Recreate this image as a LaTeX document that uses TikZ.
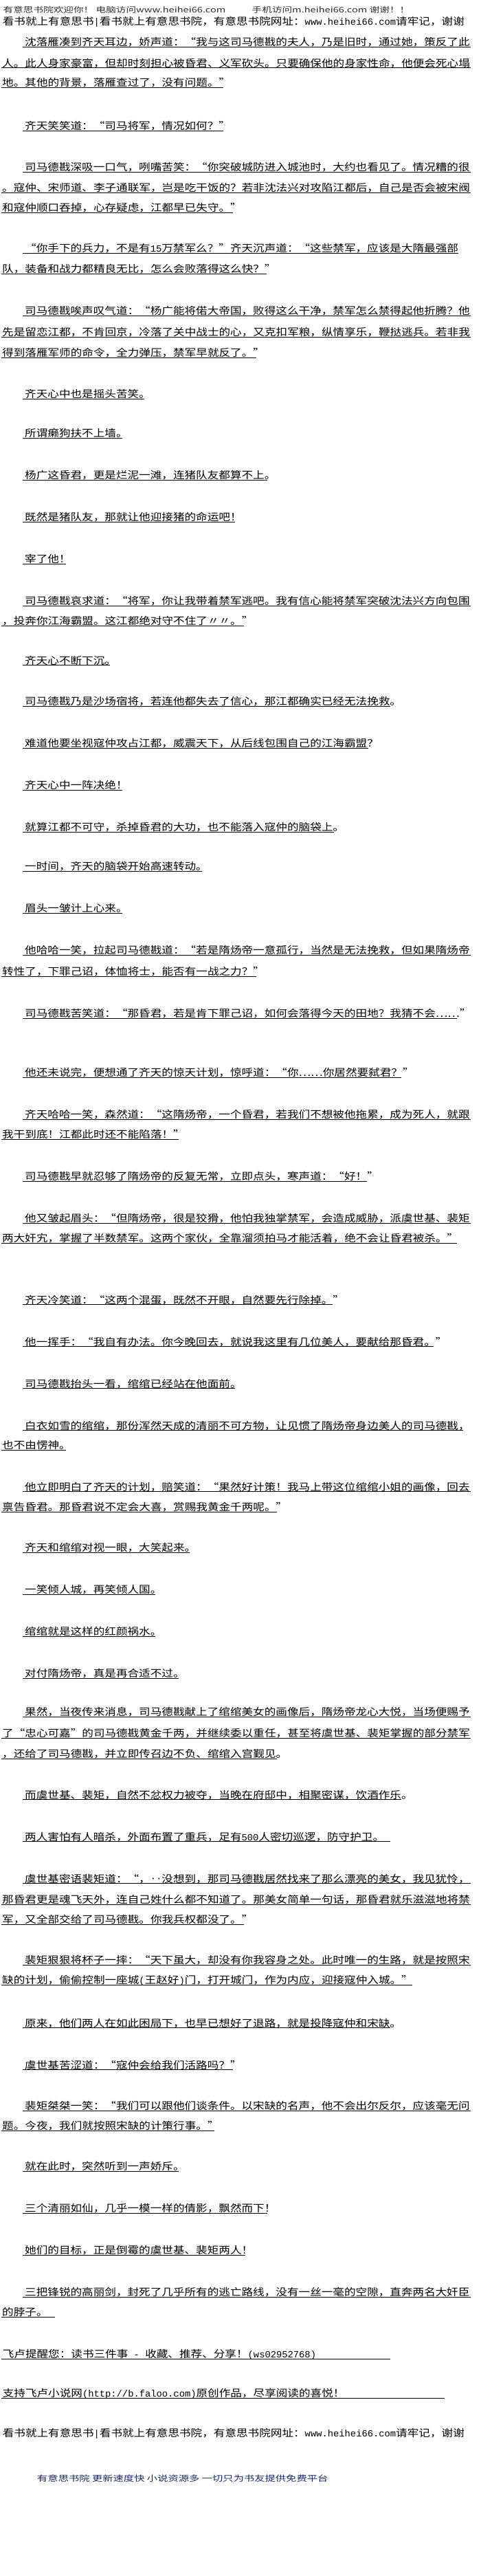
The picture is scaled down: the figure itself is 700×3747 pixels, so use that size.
\documentclass[tikz,border=0pt]{standalone}
\usepackage{fontspec}
\usetikzlibrary{positioning, calc}
\newfontfamily\songfont[FakeStretch=1.145, CharacterWidth=Full]{Noto Sans CJK SC}
\newfontfamily\heifont[FakeStretch=1.33]{Noto Sans CJK SC}
\newfontfamily\ascfont{Liberation Mono}
\newcommand{\song}{\songfont\fontsize{14.5}{14.5}\selectfont}
\newcommand{\hei}{\heifont\fontsize{11}{11}\selectfont}
\newcommand{\heib}{\heifont\fontsize{11.5}{11.5}\selectfont}
\newcommand{\asc}[1]{{\ascfont\fontsize{13.8}{13.8}\selectfont #1}}
\definecolor{HeadGray}{RGB}{45,45,55}
\definecolor{FootNavy}{RGB}{25,40,95}
\tikzstyle{Txt} = [anchor=base west, inner sep=0pt, font=\song]
\tikzstyle{Head} = [anchor=base west, inner sep=0pt, font=\hei, text=HeadGray]
\tikzstyle{Foot} = [anchor=base west, inner sep=0pt, font=\heib, text=FootNavy]
\tikzstyle{Uline} = [line width=0.8pt, black]

\begin{document}
\begin{tikzpicture}[x=1pt, y=-1pt]
    \fill [white] (0,0) rectangle (700,3747);
    \useasboundingbox (0,0) rectangle (700,3747);

    \node [Head](h1) at (4.5,18.5){有意思书院欢迎你！ 电脑访问www.heihei66.com};
    \node [Head](h2) at (366.5,18.5){手机访问m.heihei66.com 谢谢！！};
    \node [Txt](h3) at (3.6,36.5){看书就上有意思书\asc{|}看书就上有意思书院，有意思书院网址：\asc{www.heihei66.com}请牢记，谢谢};

    \node [Txt](1) at (36,66.5){沈落雁凑到齐天耳边，娇声道：“我与这司马德戡的夫人，乃是旧时，通过她，策反了此};
    \node [Txt](2) at (3,97){人。此人身家豪富，但却时刻担心被昏君、义军砍头。只要确保他的身家性命，他便会死心塌};
    \node [Txt](3) at (3,125.5){地。其他的背景，落雁查过了，没有问题。”};
    \node [Txt](4) at (36,188.5){齐天笑笑道：“司马将军，情况如何？”};
    \node [Txt](5) at (36,248.5){司马德戡深吸一口气，咧嘴苦笑：“你突破城防进入城池时，大约也看见了。情况糟的很};
    \node [Txt](6) at (3,278.5){。寇仲、宋师道、李子通联军，岂是吃干饭的？若非沈法兴对攻陷江都后，自己是否会被宋阀};
    \node [Txt](7) at (3,307.5){和寇仲顺口吞掉，心存疑虑，江都早已失守。”};
    \node [Txt](8) at (36,366.5){“你手下的兵力，不是有\asc{15}万禁军么？”齐天沉声道：“这些禁军，应该是大隋最强部};
    \node [Txt](9) at (3,396.5){队，装备和战力都精良无比，怎么会败落得这么快？”};
    \node [Txt](10) at (36,457.5){司马德戡唉声叹气道：“杨广能将偌大帝国，败得这么干净，禁军怎么禁得起他折腾？他};
    \node [Txt](11) at (3,488.5){先是留恋江都，不肯回京，冷落了关中战士的心，又克扣军粮，纵情享乐，鞭挞逃兵。若非我};
    \node [Txt](12) at (3,518.5){得到落雁军师的命令，全力弹压，禁军早就反了。”};
    \node [Txt](13) at (36,578.5){齐天心中也是摇头苦笑。};
    \node [Txt](14) at (36,635.5){所谓癞狗扶不上墙。};
    \node [Txt](15) at (36,696.5){杨广这昏君，更是烂泥一滩，连猪队友都算不上。};
    \node [Txt](16) at (36,757.5){既然是猪队友，那就让他迎接猪的命运吧！};
    \node [Txt](17) at (36,818.5){宰了他！};
    \node [Txt](18) at (36,879.5){司马德戡哀求道：“将军，你让我带着禁军逃吧。我有信心能将禁军突破沈法兴方向包围};
    \node [Txt](19) at (3,908.5){，投奔你江海霸盟。这江都绝对守不住了〃〃。”};
    \node [Txt](20) at (36,966){齐天心不断下沉。};
    \node [Txt](21) at (36,1025.5){司马德戡乃是沙场宿将，若连他都失去了信心，那江都确实已经无法挽救。};
    \node [Txt](22) at (36,1086.5){难道他要坐视寇仲攻占江都，威震天下，从后线包围自己的江海霸盟？};
    \node [Txt](23) at (36,1147.5){齐天心中一阵决绝！};
    \node [Txt](24) at (36,1208.5){就算江都不可守，杀掉昏君的大功，也不能落入寇仲的脑袋上。};
    \node [Txt](25) at (36,1265.5){一时间，齐天的脑袋开始高速转动。};
    \node [Txt](26) at (36,1326.5){眉头一皱计上心来。};
    \node [Txt](27) at (36,1387.5){他哈哈一笑，拉起司马德戡道：“若是隋炀帝一意孤行，当然是无法挽救，但如果隋炀帝};
    \node [Txt](28) at (3,1418.5){转性了，下罪己诏，体恤将士，能否有一战之力？”};
    \node [Txt](29) at (36,1479.5){司马德戡苦笑道：“那昏君，若是肯下罪己诏，如何会落得今天的田地？我猜不会……”};
    \node [Txt](30) at (36,1565.5){他还未说完，便想通了齐天的惊天计划，惊呼道：“你……你居然要弑君？”};
    \node [Txt](31) at (36,1626.5){齐天哈哈一笑，森然道：“这隋炀帝，一个昏君，若我们不想被他拖累，成为死人，就跟};
    \node [Txt](32) at (3,1655.5){我干到底！江都此时还不能陷落！”};
    \node [Txt](33) at (36,1716.5){司马德戡早就忍够了隋炀帝的反复无常，立即点头，寒声道：“好！”};
    \node [Txt](34) at (36,1777.5){他又皱起眉头：“但隋炀帝，很是狡猾，他怕我独掌禁军，会造成威胁，派虞世基、裴矩};
    \node [Txt](35) at (3,1806.5){两大奸宄，掌握了半数禁军。这两个家伙，全靠溜须拍马才能活着，绝不会让昏君被杀。”};
    \node [Txt](36) at (36,1896){齐天冷笑道：“这两个混蛋，既然不开眼，自然要先行除掉。”};
    \node [Txt](37) at (36,1957){他一挥手：“我自有办法。你今晚回去，就说我这里有几位美人，要献给那昏君。”};
    \node [Txt](38) at (36,2018){司马德戡抬头一看，绾绾已经站在他面前。};
    \node [Txt](39) at (36,2079){白衣如雪的绾绾，那份浑然天成的清丽不可方物，让见惯了隋炀帝身边美人的司马德戡，};
    \node [Txt](40) at (3,2107.5){也不由愣神。};
    \node [Txt](41) at (36,2168){他立即明白了齐天的计划，赔笑道：“果然好计策！我马上带这位绾绾小姐的画像，回去};
    \node [Txt](42) at (3,2197.5){禀告昏君。那昏君说不定会大喜，赏赐我黄金千两呢。”};
    \node [Txt](43) at (36,2256.5){齐天和绾绾对视一眼，大笑起来。};
    \node [Txt](44) at (36,2317.5){一笑倾人城，再笑倾人国。};
    \node [Txt](45) at (36,2378.5){绾绾就是这样的红颜祸水。};
    \node [Txt](46) at (36,2439.5){对付隋炀帝，真是再合适不过。};
    \node [Txt](47) at (36,2495.5){果然，当夜传来消息，司马德戡献上了绾绾美女的画像后，隋炀帝龙心大悦，当场便赐予};
    \node [Txt](48) at (3,2526.5){了“忠心可嘉”的司马德戡黄金千两，并继续委以重任，甚至将虞世基、裴矩掌握的部分禁军};
    \node [Txt](49) at (3,2556.5){，还给了司马德戡，并立即传召边不负、绾绾入宫觐见。};
    \node [Txt](50) at (36,2616){而虞世基、裴矩，自然不忿权力被夺，当晚在府邸中，相聚密谋，饮酒作乐。};
    \node [Txt](51) at (36,2677){两人害怕有人暗杀，外面布置了重兵，足有\asc{500}人密切巡逻，防守护卫。};
    \node [Txt](52) at (36,2738){虞世基密语裴矩道：“，‥没想到，那司马德戡居然找来了那么漂亮的美女，我见犹怜，};
    \node [Txt](53) at (3,2768.5){那昏君更是魂飞天外，连自己姓什么都不知道了。那美女简单一句话，那昏君就乐滋滋地将禁};
    \node [Txt](54) at (3,2797.5){军，又全部交给了司马德戡。你我兵权都没了。”};
    \node [Txt](55) at (36,2856.5){裴矩狠狠将杯子一摔：“天下虽大，却没有你我容身之处。此时唯一的生路，就是按照宋};
    \node [Txt](56) at (3,2885.5){缺的计划，偷偷控制一座城\asc{(}王赵好\asc{)}门，打开城门，作为内应，迎接寇仲入城。”};
    \node [Txt](57) at (36,2948){原来，他们两人在如此困局下，也早已想好了退路，就是投降寇仲和宋缺。};
    \node [Txt](58) at (36,3009){虞世基苦涩道：“寇仲会给我们活路吗？”};
    \node [Txt](59) at (36,3068.5){裴矩桀桀一笑：“我们可以跟他们谈条件。以宋缺的名声，他不会出尔反尔，应该毫无问};
    \node [Txt](60) at (3,3097.5){题。今夜，我们就按照宋缺的计策行事。”};
    \node [Txt](61) at (36,3156.5){就在此时，突然听到一声娇斥。};
    \node [Txt](62) at (36,3217.5){三个清丽如仙，几乎一模一样的倩影，飘然而下！};
    \node [Txt](63) at (36,3278.5){她们的目标，正是倒霉的虞世基、裴矩两人！};
    \node [Txt](64) at (36,3339.5){三把锋锐的高丽剑，封死了几乎所有的逃亡路线，没有一丝一毫的空隙，直奔两名大奸臣};
    \node [Txt](65) at (3,3368.5){的脖子。};
    \node [Txt](66) at (3.6,3429.5){飞卢提醒您：读书三件事\asc{ - }收藏、推荐、分享！\asc{(ws02952768)}};
    \node [Txt](67) at (3.6,3486.5){支持飞卢小说网\asc{(http://b.faloo.com)}原创作品，尽享阅读的喜悦！};

    \node [Txt](h4) at (3.6,3544.5){看书就上有意思书\asc{|}看书就上有意思书院，有意思书院网址：\asc{www.heihei66.com}请牢记，谢谢};
    \node [Foot](h5) at (54,3609.5){有意思书院 更新速度快 小说资源多 一切只为书友提供免费平台};

    \foreach \n/\a/\b in {1/32.5/685, 2/2/685, 3/2/325, 4/32.5/325, 5/32.5/685, 6/2/685,
        7/2/339, 8/32.5/667, 9/2/388, 10/32.5/685, 11/2/685, 12/2/373, 13/32.5/210,
        14/32.5/178, 15/32.5/389, 16/32.5/342, 17/32.5/96, 18/32.5/685, 19/2/355,
        20/32.5/160, 21/32.5/568, 22/32.5/536, 23/32.5/178, 24/32.5/486, 25/32.5/294,
        26/32.5/178, 27/32.5/685, 28/2/373, 29/32.5/665, 30/32.5/584, 31/32.5/685,
        32/2/260, 33/32.5/534, 34/32.5/685, 35/2/665, 36/32.5/484, 37/32.5/631,
        38/32.5/342, 39/32.5/674, 40/2/96, 41/32.5/685, 42/2/403, 43/32.5/276,
        44/32.5/226, 45/32.5/226, 46/32.5/260, 47/32.5/685, 48/2/685, 49/2/403,
        50/32.5/584, 51/32.5/568, 52/32.5/685, 53/2/685, 54/2/355, 55/32.5/685,
        56/2/600, 57/32.5/568, 58/32.5/339, 59/32.5/685, 60/2/312, 61/32.5/260,
        62/32.5/389, 63/32.5/357, 64/32.5/685, 65/2/80, 66/2/568, 67/2/647}
        \draw [Uline] ($(\n.base west-|\a,0)+(0,1.5)$) -- ($(\n.base west-|\b,0)+(0,1.5)$);
\end{tikzpicture}
\end{document}
